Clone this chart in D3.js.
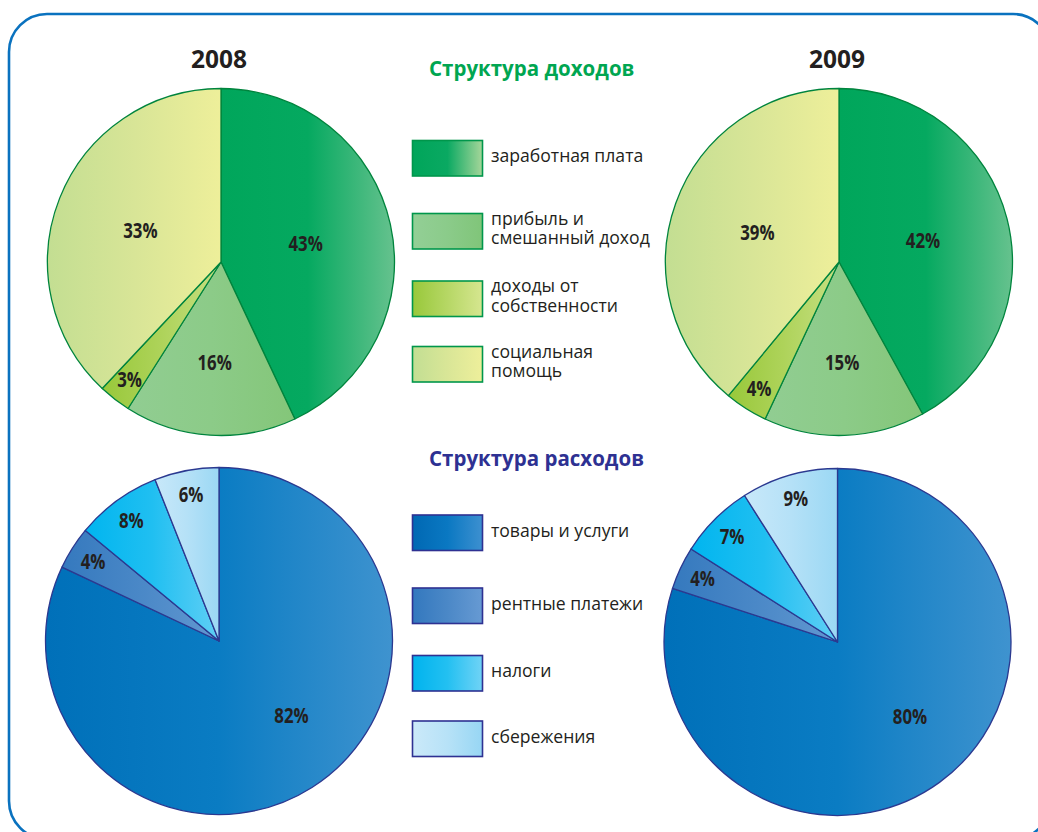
<!DOCTYPE html>
<html>
<head>
<meta charset="utf-8">
<script src="https://cdn.jsdelivr.net/npm/d3@7"></script>
<style>
  html, body { margin: 0; padding: 0; background: #fff; }
  body { width: 1038px; height: 832px; overflow: hidden; }
  text { fill: #231f20; }
</style>
</head>
<body>
<script>
// Data
const years = ["2008", "2009"];

const incomeTitle = "Структура доходов";
const incomeCategories = ["заработная плата", "прибыль и\nсмешанный доход", "доходы от\nсобственности", "социальная\nпомощь"];
const income2008 = [43, 16, 3, 33];
const income2009 = [42, 15, 4, 39];

const expenseTitle = "Структура расходов";
const expenseCategories = ["товары и услуги", "рентные платежи", "налоги", "сбережения"];
const expense2008 = [82, 4, 8, 6];
const expense2009 = [80, 4, 7, 9];

// Colors (gradient left -> right)
const incomeSliceColors = [["#00a65b", "#05a960", "#66c28e"], ["#91cd92", "#8ccb88", "#84c679"], ["#98c83a", "#aed35a", "#c6df82"], ["#c3de92", "#d8e597", "#eeef9a"]];
const incomeSwatchColors = [["#00a55a", "#0aa962", "#a6d69a"], ["#93cf96", "#8bcb8a", "#80c579"], ["#98c83a", "#b6d765", "#d6e690"], ["#c2de93", "#d9e697", "#eeef9b"]];
const expenseSliceColors = [["#0070b9", "#0a7cc3", "#3f93cf"], ["#3579be", "#4a88c7", "#6298d1"], ["#00b5ef", "#20bff1", "#60cff5"], ["#c8e8f9", "#b5e1f7", "#9bd8f4"]];
const expenseSwatchColors = [["#0068b3", "#0a78c2", "#3d90d0"], ["#3378be", "#4b88c7", "#679ad3"], ["#00b3ee", "#23c0f1", "#70d3f6"], ["#cbe9f9", "#b7e2f7", "#97d6f4"]];

const body = d3.select("body");
const width = 1038, height = 832;
const svg = body.append("svg").attr("width", width).attr("height", height);
const defs = svg.append("defs");

const sans = "'Open Sans', 'Noto Sans', sans-serif";

// frame
svg.append("rect")
   .attr("x", 9).attr("y", 14)
   .attr("width", 1042).attr("height", 825)
   .attr("rx", 38).attr("ry", 38)
   .style("fill", "none")
   .style("stroke", "#0a72bf")
   .style("stroke-width", 2.6);

function gradient(id, stops) {
  const g = defs.append("linearGradient").attr("id", id)
                .attr("x1", 0).attr("x2", 1).attr("y1", 0).attr("y2", 0);
  stops.forEach((c, i) => g.append("stop").attr("offset", i / (stops.length - 1)).attr("stop-color", c));
  return "url(#" + id + ")";
}

const R = 173.5;
const angle = d3.scaleLinear().domain([0, 100]).range([0, 2 * Math.PI]);
const arc = d3.arc().innerRadius(0).outerRadius(R);

function drawPie(cx, cy, values, colors, stroke, key) {
  // slices in percent of full circle; last slice closes the circle
  let acc = 0;
  const slices = values.map((v, i) => {
    const s = { value: v, index: i, startAngle: angle(acc), endAngle: i === values.length - 1 ? 2 * Math.PI : angle(acc + v) };
    acc += v;
    return s;
  });

  const g = svg.append("g").attr("transform", "translate(" + cx + "," + cy + ")");

  g.selectAll("path")
   .data(slices)
   .enter().append("path")
   .attr("d", arc)
   .style("fill", d => gradient(key + "-s" + d.index, colors[d.index]))
   .style("stroke", stroke)
   .style("stroke-width", 1.3)
   .style("stroke-linejoin", "round");

  // condensed bold labels
  g.selectAll("text")
   .data(slices)
   .enter().append("text")
   .attr("transform", d => {
      let a = (d.startAngle + d.endAngle) / 2;
      let k = d.value < 10 ? 0.86 : d.value < 25 ? 0.58 : 0.5;
      if (d.value > 50) { a = 0.755 * Math.PI; k = 0.6; }
      return "translate(" + (k * R * Math.sin(a)) + "," + (-k * R * Math.cos(a)) + ") scale(0.8,1)";
   })
   .attr("dy", "0.36em")
   .attr("text-anchor", "middle")
   .style("font-family", sans)
   .style("font-weight", "bold")
   .style("font-size", "21px")
   .text(d => d.value + "%");
}

function drawLegend(x, top, offsets, categories, colors, stroke, key) {
  const g = svg.append("g");
  const rows = g.selectAll("g")
                .data(categories)
                .enter().append("g")
                .attr("transform", (d, i) => "translate(" + x + "," + (top + offsets[i]) + ")");

  rows.append("rect")
      .attr("width", 70).attr("height", 35.5)
      .style("fill", (d, i) => gradient(key + "-l" + i, colors[i]))
      .style("stroke", stroke)
      .style("stroke-width", 1.6);

  rows.each(function(d) {
    const lines = d.split("\n");
    const t = d3.select(this).append("text")
                .attr("x", 78.5)
                .style("font-family", sans)
                .style("font-size", "17.6px");
    const y0 = lines.length === 1 ? 21.5 : 11;
    lines.forEach((l, j) => t.append("tspan").attr("x", 78.5).attr("y", y0 + j * 19.5).text(l));
  });
}

// year titles
svg.selectAll(".year")
   .data(years)
   .enter().append("text")
   .attr("class", "year")
   .attr("x", (d, i) => i === 0 ? 219 : 837)
   .attr("y", 68)
   .attr("text-anchor", "middle")
   .style("font-family", sans)
   .style("font-weight", "bold")
   .style("font-size", "24.5px")
   .text(d => d);

// section titles
svg.append("text")
   .attr("x", 429).attr("y", 76)
   .style("font-family", sans)
   .style("font-weight", "bold")
   .style("font-size", "20.5px")
   .style("fill", "#00a651")
   .text(incomeTitle);

svg.append("text")
   .attr("x", 429).attr("y", 466)
   .style("font-family", sans)
   .style("font-weight", "bold")
   .style("font-size", "20.5px")
   .style("fill", "#2e3192")
   .text(expenseTitle);

const legendOffsets = [0, 73, 140.5, 206];

drawPie(221, 262, income2008, incomeSliceColors, "#00843d", "i08");
drawPie(839, 262, income2009, incomeSliceColors, "#00843d", "i09");
drawPie(219, 641, expense2008, expenseSliceColors, "#2b3990", "e08");
drawPie(837.5, 642, expense2009, expenseSliceColors, "#2b3990", "e09");

drawLegend(412.5, 140.5, legendOffsets, incomeCategories, incomeSwatchColors, "#00964b", "inc");
drawLegend(412.5, 515, legendOffsets, expenseCategories, expenseSwatchColors, "#2e3192", "exp");
</script>
</body>
</html>
